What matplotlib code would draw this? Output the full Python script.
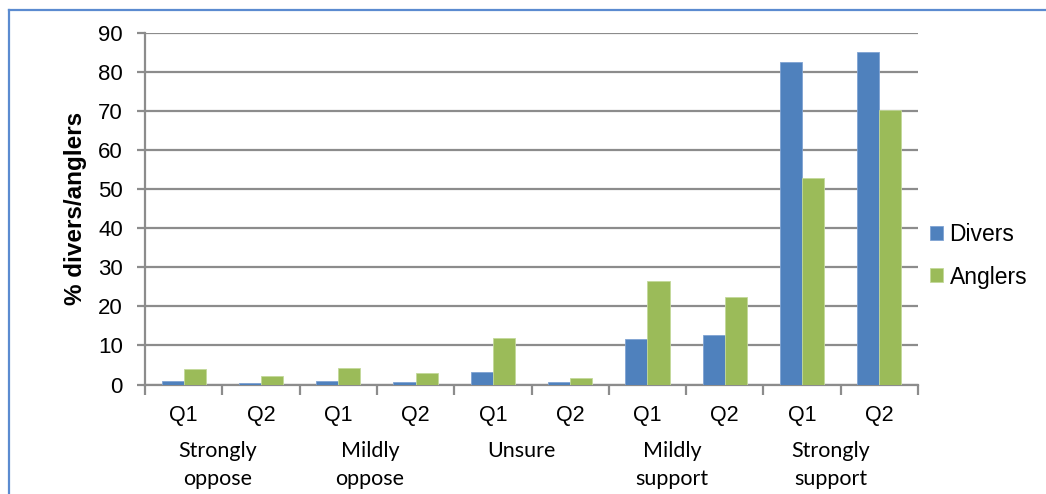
import matplotlib
matplotlib.use("Agg")
import matplotlib.pyplot as plt
import numpy as np
from matplotlib.lines import Line2D
from matplotlib.transforms import offset_copy

# Survey responses (% of respondents) per question and attitude
groups = [["Strongly", "oppose"], ["Mildly", "oppose"], ["Unsure"],
          ["Mildly", "support"], ["Strongly", "support"]]
questions = ["Q1", "Q2"]
divers = [1.0, 0.4, 1.0, 0.7, 3.3, 0.7, 11.7, 12.6, 82.5, 85.1]
anglers = [3.9, 2.1, 4.2, 3.0, 12.0, 1.7, 26.5, 22.5, 52.9, 70.3]
y_ticks = [0, 10, 20, 30, 40, 50, 60, 70, 80, 90]

blue = "#4F81BD"
green = "#9BBB59"
grid_c = "#8C8C8C"

W, H = 1046, 494
fig = plt.figure(figsize=(W / 100, H / 100), dpi=100)
ax = fig.add_axes([145 / W, 1 - 384.5 / H, (918 - 145) / W, (384.5 - 32.5) / H])

n = len(divers)
x = np.arange(n)
w = 1 / 3.5
ax.bar(x - w / 2, divers, width=w, color=blue, edgecolor="#7FA3D3", linewidth=0.6, label="Divers", zorder=3)
ax.bar(x + w / 2, anglers, width=w, color=green, edgecolor="#C3D99A", linewidth=0.6, label="Anglers", zorder=3)

ax.set_xlim(-0.5, n - 0.5)
ax.set_ylim(0, 90)
ax.set_yticks(y_ticks)
ax.yaxis.grid(True, color=grid_c, linewidth=1.6, zorder=0)
ax.set_axisbelow(True)

for s in ["top", "right"]:
    ax.spines[s].set_visible(False)
for s in ["left", "bottom"]:
    ax.spines[s].set_color(grid_c)
    ax.spines[s].set_linewidth(1.6)

ax.tick_params(axis="y", length=6, width=1.6, color=grid_c, labelsize=16, pad=10)
for lab in ax.get_yticklabels():
    lab.set_fontfamily("Liberation Sans")

# Category boundaries carry the tick marks; labels sit at bar centres
ax.set_xticks(np.arange(-0.5, n, 1.0))
ax.set_xticklabels([])
ax.tick_params(axis="x", length=7, width=1.6, color=grid_c)

px = 90 / (384.5 - 32.5)  # data units per pixel on the value axis
for i in range(n):
    ax.text(i, -31 * px, questions[i % 2], ha="center", va="center",
            fontsize=15.5, family="Liberation Sans", clip_on=False)

# Wrapped group labels sit a little left of their pair boundary
group_shift_px = [-5, -7, -10, -14, -10]
for g, lines in enumerate(groups):
    cx = 2 * g + 0.5
    tr = offset_copy(ax.transData, fig=fig, x=group_shift_px[g], y=0, units="dots")
    for k, line in enumerate(lines):
        ax.text(cx, -(72 + 28.5 * k) * px, line, ha="center", va="baseline",
                fontsize=15.5, family="Lato", clip_on=False, transform=tr)

ax.set_ylabel("% divers/anglers", fontsize=17.5, fontweight="bold",
              family="Liberation Sans", labelpad=8)

ax.legend(loc="center left", bbox_to_anchor=(930 / W, 1 - 256 / H),
          bbox_transform=fig.transFigure, frameon=False,
          prop={"family": "Liberation Sans", "size": 16.5},
          borderpad=0, borderaxespad=0,
          handlelength=0.55, handleheight=0.55, handletextpad=0.3, labelspacing=0.83)

# Chart frame (left and top edges)
fc = "#5B8BD0"
fig.add_artist(Line2D([9 / W, 9 / W], [0, 1 - 10 / H], color=fc, linewidth=1.6))
fig.add_artist(Line2D([9 / W, 1], [1 - 10 / H, 1 - 10 / H], color=fc, linewidth=1.6))

fig.savefig("out.png", dpi=100)
